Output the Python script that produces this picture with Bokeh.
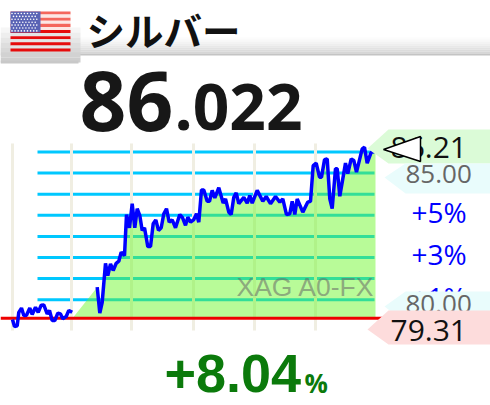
from bokeh.plotting import figure
from bokeh.models import Range1d
from bokeh.embed import file_html
from bokeh.resources import INLINE
from bokeh.core.properties import value

# ---- data ----
name = "シルバー"
last_int = "86"
last_dec = ".022"
change = "+8.04"
watermark = "XAG A0-FX"
base_price = 79.62
prev_line = 79.72
high = "86.21"
low = "79.31"
price_labels = ["85.00", "80.00"]
pct_labels = ["+5%", "+3%", "+1%"]
pct_levels = [1, 2, 3, 4, 5, 6, 7, 8]
time_ticks = [0, 59, 119, 181, 242, 303]

t_first = [0, 2, 4.7, 6.3, 9, 11.3, 14, 17.3, 19.7, 23, 25.7, 28.7, 31.3, 34.7, 37, 39.7, 42.3, 45.3, 48, 50.3, 53.7, 56.3, 59.7]
p_first = [79.67, 79.40, 79.43, 79.94, 80.10, 79.82, 79.83, 80.10, 79.86, 80.13, 79.94, 80.21, 80.22, 79.88, 80.01, 79.63, 79.63, 79.91, 79.88, 79.70, 79.78, 80.01, 79.94]

t_second = [84.7, 87.3, 89.7, 93, 95.3, 98, 100.7, 103.7, 106.3, 108.7, 112, 114, 117, 119.7, 122.3, 124.7, 127.3, 129.7, 132, 135.3,
            138, 140.7, 143.3, 146, 148.7, 151.3, 154, 156.7, 159.7, 163, 167.3, 170, 173, 175.3, 178, 181.3, 184, 186.3, 189, 191.3,
            194.7, 197, 199.7, 202.3, 206.3, 210.7, 213, 216.3, 218.7, 221.3, 223.7, 226.3, 231.3, 234.7, 237.3,
            239.7, 244.7, 250.3, 253.7, 258, 263, 267.3, 270.3, 274, 277.3, 279.7, 282.3, 284.7, 290.3, 295.3, 298,
            300.7, 303.7, 307, 309, 312, 314.7, 317.3, 319.7, 323, 324.7, 327.3, 333, 335.3, 338.7, 341.3, 344, 349.7, 352, 354.7, 358.7, 363]
p_second = [80.89, 79.91, 80.32, 81.79, 81.33, 81.77, 81.52, 81.79, 81.87, 82.21, 82.08, 83.63, 83.13, 84.04, 83.13, 83.85, 83.59, 83.03, 83.13, 82.42,
            82.42, 83.28, 83.43, 83.03, 83.13, 83.66, 83.85, 83.34, 83.43, 83.13, 83.63, 83.51, 83.22, 83.53, 83.34, 83.44, 83.66, 83.34, 84.56, 84.56,
            84.13, 84.13, 84.54, 84.26, 84.64, 84.06, 84.22, 83.72, 83.63, 84.28, 84.45, 84.04, 84.28, 84.06, 84.35,
            84.06, 84.54, 84.13, 84.31, 84.04, 84.31, 84.10, 84.22, 83.63, 83.66, 84.13, 83.63, 84.22, 83.72, 84.10, 84.13,
            85.48, 85.57, 85.04, 85.04, 85.70, 85.73, 84.22, 83.85, 85.36, 85.36, 84.32, 85.57, 85.17, 85.73, 85.67, 85.23, 86.11, 86.17, 85.57, 85.98, 86.02]

# ---- scales: 1 time unit = 1 px, 26.5 px per price unit ----
W, H = 490, 405
PX_PER_PRICE = 26.5
BASE_PX = 320.3
y_top = base_price + BASE_PX / PX_PER_PRICE
y_bot = base_price + (BASE_PX - H) / PX_PER_PRICE

p = figure(width=W, height=H, output_backend="svg", toolbar_location=None,
           x_range=Range1d(-12, 478), y_range=Range1d(y_bot, y_top),
           min_border=0, outline_line_color=None, background_fill_color="white",
           border_fill_color="white")
p.xaxis.visible = False
p.yaxis.visible = False
p.grid.visible = False
p.extra_x_ranges["px"] = Range1d(0, W)
p.extra_y_ranges["px"] = Range1d(H, 0)
PX = dict(x_range_name="px", y_range_name="px")


def tag(xs, ys, color):
    p.patch(xs, ys, fill_color=color, line_color=None, **PX)


def txt(x, y, s, size, color, font="Open Sans", style="normal", align="left", alpha=1.0):
    # y is the baseline; the svg text sits about 0.36 em below the asked baseline
    p.text([x], [y - 0.36 * size], text=[s], text_font=value(font), text_font_size=f"{size}px", text_color=color,
           text_font_style=style, text_align=align, text_baseline="alphabetic", text_alpha=alpha, **PX)


# ---- header ----
bar_cols = ["#ffffff", "#fcfcfc", "#f8f8f8", "#f3f3f3", "#eeeeee", "#e8e8e8", "#e2e2e2", "#dcdcdc", "#d6d6d6", "#c4c4c4"]
for i, c in enumerate(bar_cols):
    p.quad(left=[0], right=[W], top=[35 + i * 2], bottom=[37 + i * 2], fill_color=c, line_color=None, **PX)
tab_cols = ["#ffffff", "#f6f6f6", "#eeeeee", "#e6e6e6", "#dedede", "#d8d8d8", "#d2d2d2", "#cecece"]
for i, c in enumerate(tab_cols):
    p.quad(left=[0], right=[80], top=[22 + i * 5], bottom=[27 + i * 5], fill_color=c, line_color=None, **PX)
p.quad(left=[0], right=[78], top=[60], bottom=[63], fill_color="#c8c8c8", line_color=None, **PX)

# flag
for i in range(13):
    top = 11 + i * 3.08
    upper = i < 6
    col = ("#f4675c" if upper else "#e60c0c") if i % 2 == 0 else ("#fde8e4" if upper else "#e4e4e4")
    p.quad(left=[10], right=[70], top=[top], bottom=[top + 3.08], fill_color=col, line_color=None, **PX)
p.quad(left=[10], right=[40], top=[11], bottom=[32], fill_color="#5a63b5", line_color=None, **PX)
for r in range(7):
    xs = [11.5 + 3.1 * k + (1.5 if r % 2 else 0) for k in range(9 - (r % 2))]
    p.scatter(xs, [13 + 2.9 * r] * len(xs), size=1.6, fill_color="white", line_color=None, **PX)

txt(86, 42, name, 38.5, "#111111", font="Noto Sans CJK JP", style="bold")
txt(79, 130, last_int, 82, "#171717", style="bold")
txt(174, 130, last_dec, 64, "#171717", style="bold")

# ---- chart ----
levels = [base_price * (1 + v / 100) for v in pct_levels]
p.segment(x0=[25] * len(levels), x1=[362] * len(levels), y0=levels, y1=levels, line_color="#00c8ff", line_width=3)
p.segment(x0=time_ticks, x1=time_ticks, y0=[y_bot + (405 - 330) / PX_PER_PRICE] * len(time_ticks),
          y1=[y_bot + (405 - 143) / PX_PER_PRICE] * len(time_ticks), line_color="#f0eee2", line_width=3)

area_t = [60] + t_second
area_p = [prev_line] + p_second
p.varea(x=area_t, y1=[prev_line] * len(area_t), y2=area_p, fill_color="#6af628", fill_alpha=0.48)
txt(236, 296.5, watermark, 26.5, "#666666", font="Liberation Sans", alpha=0.55)
p.line([-12, 377], [prev_line, prev_line], line_color="#ee0000", line_width=3)
p.line(t_first, p_first, line_color="#0000ff", line_width=3.5)
p.line(t_second, p_second, line_color="#0000ff", line_width=3.5)

# ---- tags and labels ----
txt(411, 221.5, pct_labels[0], 28, "#0000ff")
txt(411, 264, pct_labels[1], 28, "#0000ff")
txt(411, 307, pct_labels[2], 28, "#0000ff")

tag([388, 490, 490, 388, 367], [129, 129, 163, 163, 148], "#dbfbd7")
tag([405, 490, 490, 405, 384], [163, 163, 193, 193, 177], "#e9fcfc")
txt(405, 183, price_labels[0], 26, "#666666")
tag([405, 490, 490, 405, 384], [291, 291, 322, 322, 306], "#e9fcfc")
txt(405, 313, price_labels[1], 26, "#666666")
txt(390, 158, high, 30, "#111111")
tag([388, 490, 490, 388, 367], [310, 310, 344, 344, 329], "#fddcdc")
txt(390, 341, low, 30, "#111111")
p.patch([383, 420, 420], [149, 136, 161], fill_color="white", line_color="black", line_width=1.5, **PX)

txt(164, 392, change, 54, "#0b7a0b", font="Liberation Sans", style="bold")
txt(304, 392, "%", 26, "#0b7a0b", style="bold")

html = file_html(p, INLINE)
open("out.html", "w").write(html)
